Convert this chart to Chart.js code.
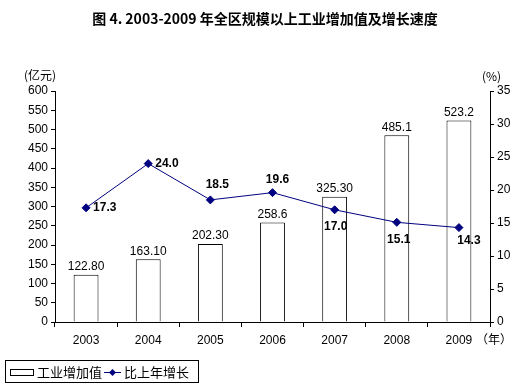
<!DOCTYPE html>
<html>
<head>
<meta charset="utf-8">
<script src="https://cdn.jsdelivr.net/npm/chart.js@4"></script>
<style>
  body { margin: 0; background: #fff; }
  canvas { display: block; }
</style>
</head>
<body>
<canvas id="grafico" width="518" height="388"></canvas>
<script>
// 数据
const anios = ['2003', '2004', '2005', '2006', '2007', '2008', '2009'];
const valorIndustrial = [122.8, 163.1, 202.3, 258.6, 325.3, 485.1, 523.2];
const etiquetasValor = ['122.80', '163.10', '202.30', '258.6', '325.30', '485.1', '523.2'];
const crecimiento = [17.3, 24.0, 18.5, 19.6, 17.0, 15.1, 14.3];
const etiquetasCrec = ['17.3', '24.0', '18.5', '19.6', '17.0', '15.1', '14.3'];

const fuenteNum = '"Liberation Sans", Arial, sans-serif';
const fuenteCJK = '"Noto Sans CJK SC", "Liberation Sans", sans-serif';

// posición de las etiquetas de la línea respecto al punto
const desplazLinea = [
  { dx: 7, dy: 0, align: 'left' },
  { dx: 7, dy: 0, align: 'left' },
  { dx: 7, dy: -15, align: 'center' },
  { dx: 5, dy: -13, align: 'center' },
  { dx: 1, dy: 17, align: 'center' },
  { dx: 2, dy: 17, align: 'center' },
  { dx: 10, dy: 13, align: 'center' }
];

const extras = {
  id: 'extras',
  afterDatasetsDraw(chart) {
    const c = chart.ctx;
    c.save();
    // etiquetas de barras
    c.fillStyle = '#000';
    c.font = '12px ' + fuenteNum;
    c.textAlign = 'center';
    c.textBaseline = 'bottom';
    chart.getDatasetMeta(0).data.forEach((el, i) => {
      c.fillText(etiquetasValor[i], el.x, el.y - 2);
    });
    // etiquetas de la línea
    c.font = 'bold 12px ' + fuenteNum;
    c.textBaseline = 'middle';
    chart.getDatasetMeta(1).data.forEach((el, i) => {
      const d = desplazLinea[i];
      c.textAlign = d.align;
      c.fillText(etiquetasCrec[i], el.x + d.dx, el.y + d.dy);
    });
    c.restore();
  },
  afterDraw(chart) {
    const c = chart.ctx;
    c.save();
    c.fillStyle = '#000';
    // título
    c.font = 'bold 14px ' + fuenteCJK;
    c.textAlign = 'center';
    c.textBaseline = 'middle';
    c.fillText('图 4. 2003-2009 年全区规模以上工业增加值及增长速度', 265, 19);
    // unidades
    c.font = '12px ' + fuenteCJK;
    c.textAlign = 'left';
    c.fillText('(亿元)', 24, 75);
    c.fillText('(%)', 482, 76);
    c.fillText('（年）', 476, 339);
    // leyenda
    c.strokeStyle = '#000';
    c.lineWidth = 1;
    c.strokeRect(5.5, 360.5, 193, 22);
    c.strokeRect(10.5, 369.5, 23, 6);
    c.font = '13px ' + fuenteCJK;
    c.fillText('工业增加值', 37, 372);
    c.strokeStyle = '#000080';
    c.beginPath();
    c.moveTo(104, 372.5);
    c.lineTo(121, 372.5);
    c.stroke();
    c.fillStyle = '#000080';
    c.beginPath();
    c.moveTo(112.5, 369);
    c.lineTo(116, 372.5);
    c.lineTo(112.5, 376);
    c.lineTo(109, 372.5);
    c.closePath();
    c.fill();
    c.fillStyle = '#000';
    c.fillText('比上年增长', 124, 372);
    c.restore();
  }
};

const ctx = document.getElementById('grafico').getContext('2d');
const grafico = new Chart(ctx, {
  type: 'bar',
  data: {
    labels: anios,
    datasets: [
      {
        label: '工业增加值',
        data: valorIndustrial,
        backgroundColor: '#ffffff',
        borderColor: '#000000',
        borderWidth: 1,
        barPercentage: 0.4,
        categoryPercentage: 1,
        yAxisID: 'y',
        order: 2
      },
      {
        type: 'line',
        label: '比上年增长',
        data: crecimiento,
        borderColor: '#000080',
        backgroundColor: '#000080',
        borderWidth: 1,
        pointStyle: 'rectRot',
        pointRadius: 4,
        pointHoverRadius: 4,
        tension: 0,
        yAxisID: 'y1',
        order: 1
      }
    ]
  },
  options: {
    responsive: false,
    animation: false,
    events: [],
    layout: { padding: { top: 91, left: 0, right: 0, bottom: 0 } },
    plugins: {
      legend: { display: false },
      title: { display: false },
      tooltip: { enabled: false }
    },
    scales: {
      x: {
        offset: true,
        grid: { offset: true, drawOnChartArea: false, tickLength: 5, color: '#000' },
        border: { color: '#000' },
        ticks: { color: '#000', font: { size: 12, family: fuenteNum }, padding: 6 },
        afterFit(s) { s.height = 66; }
      },
      y: {
        position: 'left',
        min: 0, max: 600,
        ticks: { stepSize: 50, color: '#000', font: { size: 12, family: fuenteNum }, padding: 3 },
        grid: { drawOnChartArea: false, tickLength: 4, color: '#000' },
        border: { color: '#000' },
        afterFit(s) { s.width = 55; }
      },
      y1: {
        position: 'right',
        min: 0, max: 35,
        ticks: { stepSize: 5, color: '#000', font: { size: 12, family: fuenteNum }, padding: 3 },
        grid: { drawOnChartArea: false, tickLength: 4, color: '#000' },
        border: { color: '#000' },
        afterFit(s) { s.width = 28; }
      }
    }
  },
  plugins: [extras]
});
</script>
</body>
</html>
